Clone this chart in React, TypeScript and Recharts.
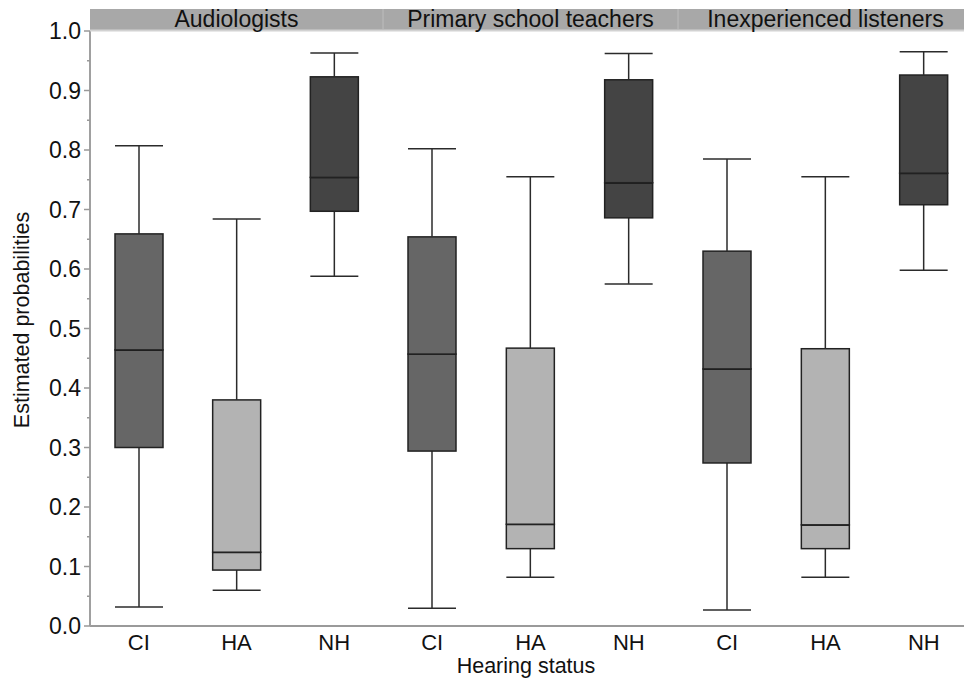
import React from 'react';
import { BarChart, Bar, XAxis, YAxis } from 'recharts';

const categories = ['CI', 'HA', 'NH'];
const panels = ['Audiologists', 'Primary school teachers', 'Inexperienced listeners'];

// per category: [min, q1, median, q3, max]
const audiologists = [
	[0.032, 0.300, 0.464, 0.659, 0.807],
	[0.060, 0.094, 0.124, 0.380, 0.684],
	[0.588, 0.697, 0.754, 0.923, 0.963],
];
const teachers = [
	[0.030, 0.294, 0.457, 0.654, 0.802],
	[0.082, 0.130, 0.171, 0.467, 0.755],
	[0.575, 0.686, 0.745, 0.918, 0.962],
];
const listeners = [
	[0.027, 0.274, 0.432, 0.630, 0.785],
	[0.082, 0.130, 0.170, 0.466, 0.755],
	[0.598, 0.708, 0.761, 0.926, 0.965],
];

const yTicks = [0, 0.05, 0.1, 0.15, 0.2, 0.25, 0.3, 0.35, 0.4, 0.45, 0.5, 0.55, 0.6, 0.65, 0.7, 0.75, 0.8, 0.85, 0.9, 0.95, 1.0];

const boxFill: Record<string, string> = { CI: '#666666', HA: '#b3b3b3', NH: '#444444' };
const font = '"Liberation Sans", Arial, Helvetica, sans-serif';
const lineColor = '#2b2b2b';

const toRows = (stats: number[][]) =>
	categories.map((cat, i) => {
		const [min, q1, med, q3, max] = stats[i];
		return { cat, base: min, lw: q1 - min, lb: med - q1, ub: q3 - med, uw: max - q3 };
	});

const WhiskerLow = (p: any) => {
	const cx = p.x + p.width / 2;
	const bottom = p.y + p.height;
	return (
		<g>
			<line x1={cx} x2={cx} y1={p.y} y2={bottom} stroke={lineColor} strokeWidth={1.5} />
			<line x1={p.x} x2={p.x + p.width} y1={bottom} y2={bottom} stroke={lineColor} strokeWidth={1.5} />
		</g>
	);
};

const WhiskerHigh = (p: any) => {
	const cx = p.x + p.width / 2;
	return (
		<g>
			<line x1={cx} x2={cx} y1={p.y} y2={p.y + p.height} stroke={lineColor} strokeWidth={1.5} />
			<line x1={p.x} x2={p.x + p.width} y1={p.y} y2={p.y} stroke={lineColor} strokeWidth={1.5} />
		</g>
	);
};

const BoxLower = (p: any) => (
	<g>
		<rect x={p.x} y={p.y} width={p.width} height={p.height} fill={boxFill[p.payload.cat]} stroke="#222" strokeWidth={1.5} />
		<line x1={p.x} x2={p.x + p.width} y1={p.y} y2={p.y} stroke="#1a1a1a" strokeWidth={2} />
	</g>
);

const BoxUpper = (p: any) => (
	<rect x={p.x} y={p.y} width={p.width} height={p.height} fill={boxFill[p.payload.cat]} stroke="#222" strokeWidth={1.5} />
);

const YTick = (props: any) => {
	const { x, y, payload } = props;
	const major = Math.round(payload.value * 100) % 10 === 0;
	return (
		<g>
			<line x1={major ? x + 2 : x + 5} x2={x + 8} y1={y} y2={y} stroke="#999" strokeWidth={1.5} />
			{major && (
				<text x={x - 1} y={y} dy="0.36em" textAnchor="end" fontSize={23} fill="#111" fontFamily={font}>
					{payload.value.toFixed(1)}
				</text>
			)}
		</g>
	);
};

const panelData = [toRows(audiologists), toRows(teachers), toRows(listeners)];
const lefts = [0, 383, 678];
const widths = [383, 295, 295];

function Panel({ index }: { index: number }) {
	const first = index === 0;
	return (
		<div style={{ position: 'absolute', left: lefts[index], top: 0 }}>
			<BarChart width={widths[index]} height={681} data={panelData[index]} margin={{ top: 31, right: 0, bottom: 0, left: 0 }} barSize={48}>
				<XAxis
					dataKey="cat"
					height={55}
					tickLine={false}
					interval={0}
					axisLine={{ stroke: '#9a9a9a', strokeWidth: 2 }}
					tick={{ fontSize: 22, fill: '#111', fontFamily: font }}
				/>
				{first ? (
					<YAxis
						type="number"
						domain={[0, 1]}
						ticks={yTicks}
						width={90}
						tickSize={6}
						tickMargin={2}
						tickLine={false}
						axisLine={{ stroke: '#a0a0a0', strokeWidth: 2 }}
						tick={<YTick />}
						interval={0}
					/>
				) : (
					<YAxis
						type="number"
						domain={[0, 1]}
						ticks={yTicks}
						width={0}
						tick={false}
						tickLine={false}
						axisLine={{ stroke: '#808080', strokeWidth: 1.5 }}
					/>
				)}
				<Bar dataKey="base" stackId="box" fill="transparent" isAnimationActive={false} />
				<Bar dataKey="lw" stackId="box" shape={WhiskerLow} isAnimationActive={false} />
				<Bar dataKey="lb" stackId="box" shape={BoxLower} isAnimationActive={false} />
				<Bar dataKey="ub" stackId="box" shape={BoxUpper} isAnimationActive={false} />
				<Bar dataKey="uw" stackId="box" shape={WhiskerHigh} isAnimationActive={false} />
			</BarChart>
		</div>
	);
}

export default function App() {
	return (
		<div style={{ position: 'absolute', left: 0, top: 0, width: 964, height: 681, overflow: 'hidden', background: '#fff', fontFamily: font }}>
			{panels.map((_, i) => (
				<Panel key={i} index={i} />
			))}
			<svg width={964} height={681} style={{ position: 'absolute', left: 0, top: 0, pointerEvents: 'none' }}>
				<rect x={90} y={9} width={874} height={21} fill="#a8a8a8" />
				<line x1={90} x2={964} y1={30.5} y2={30.5} stroke="#d2d2d2" strokeWidth={2} />
				<line x1={383} x2={383} y1={9} y2={30} stroke="#bdbdbd" strokeWidth={1} />
				<line x1={678} x2={678} y1={9} y2={30} stroke="#bdbdbd" strokeWidth={1} />
				{panels.map((name, i) => (
					<text key={name} x={(i === 0 ? 90 : lefts[i]) + (i === 0 ? 293 : widths[i]) / 2} y={26.5} textAnchor="middle" fontSize={23} fill="#111" fontFamily={font}>
						{name}
					</text>
				))}
				<text x={29} y={320} transform="rotate(-90, 29, 320)" textAnchor="middle" fontSize={21.5} fill="#111" fontFamily={font}>
					Estimated probabilities
				</text>
				<text x={526} y={673} textAnchor="middle" fontSize={21.5} fill="#111" fontFamily={font}>
					Hearing status
				</text>
			</svg>
		</div>
	);
}
